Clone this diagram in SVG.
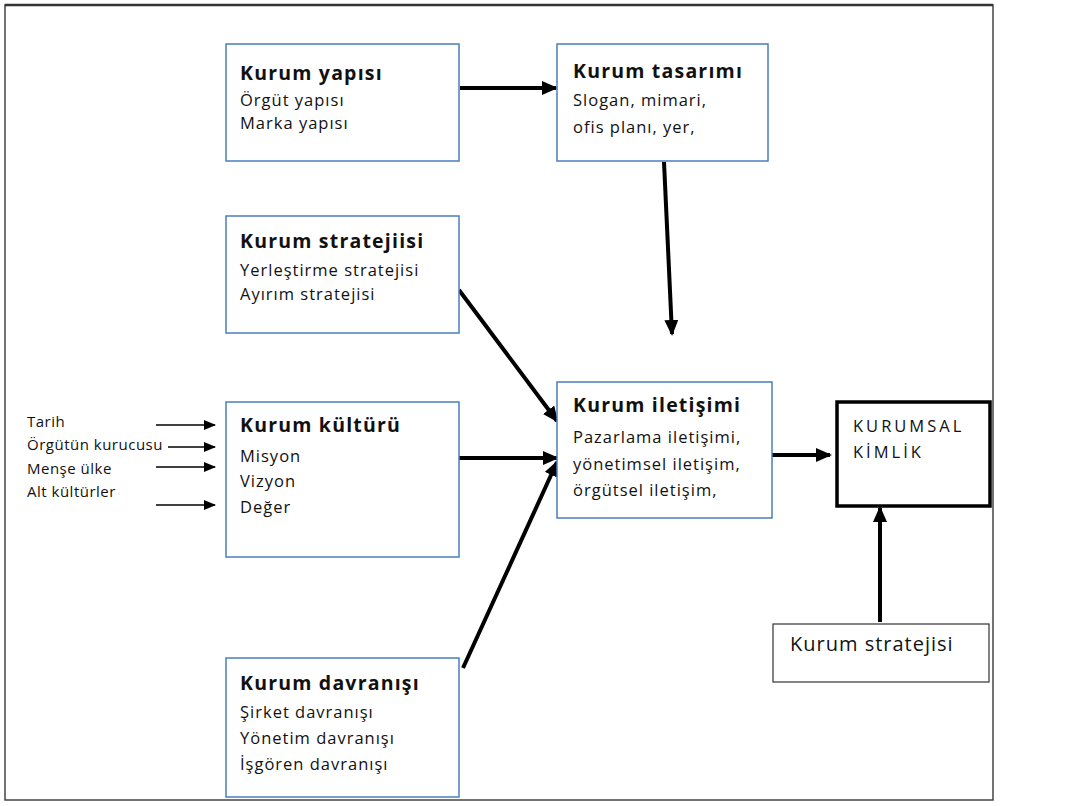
<svg xmlns="http://www.w3.org/2000/svg" width="1079" height="806" viewBox="0 0 1079 806">
  <style>
    text { font-family: "Open Sans", Lato, "Liberation Sans", sans-serif; fill: #111; }
    .box { fill: #fff; stroke: #4a7ebb; stroke-width: 1.5; }
    .title { font-weight: bold; font-size: 19.5px; letter-spacing: 1.2px; }
    .item { font-size: 16.5px; letter-spacing: 1px; }
    .side { font-size: 15px; letter-spacing: 0.5px; }
    .caps { font-size: 16.5px; letter-spacing: 3px; }
    .thick { stroke: #000; stroke-width: 4; fill: none; }
    .thin { stroke: #000; stroke-width: 1.5; fill: none; }
  </style>
  <defs>
    <marker id="headBig" markerUnits="userSpaceOnUse" markerWidth="16" markerHeight="14" refX="14" refY="7" orient="auto">
      <path d="M0,0 L16,7 L0,14 Z" fill="#000"/>
    </marker>
    <marker id="headSmall" markerUnits="userSpaceOnUse" markerWidth="12" markerHeight="10" refX="11" refY="5" orient="auto">
      <path d="M0,0 L12,5 L0,10 Z" fill="#000"/>
    </marker>
  </defs>
  <rect width="1079" height="806" fill="#fff"/>
  <!-- outer frame -->
  <rect x="5" y="5" width="988" height="795" fill="none" stroke="#444" stroke-width="1.5"/>
  <line x1="5" y1="5" x2="993" y2="5" stroke="#333" stroke-width="2.5"/>

  <g id="connectors">
    <line class="thick" x1="460" y1="88" x2="556" y2="88" marker-end="url(#headBig)"/>
    <line class="thick" x1="664" y1="162" x2="672" y2="334" marker-end="url(#headBig)"/>
    <line class="thick" x1="459" y1="290" x2="557" y2="421" marker-end="url(#headBig)"/>
    <line class="thick" x1="459" y1="458" x2="557" y2="458" marker-end="url(#headBig)"/>
    <line class="thick" x1="463" y1="668" x2="557" y2="462" marker-end="url(#headBig)"/>
    <line class="thick" x1="772" y1="455" x2="830" y2="455" marker-end="url(#headBig)"/>
    <line class="thick" x1="880" y1="622" x2="880" y2="508" marker-end="url(#headBig)"/>
    <line class="thin" x1="156" y1="425" x2="215" y2="425" marker-end="url(#headSmall)"/>
    <line class="thin" x1="168" y1="447" x2="215" y2="447" marker-end="url(#headSmall)"/>
    <line class="thin" x1="156" y1="467" x2="215" y2="467" marker-end="url(#headSmall)"/>
    <line class="thin" x1="156" y1="505" x2="215" y2="505" marker-end="url(#headSmall)"/>
  </g>

  <g id="kurum-yapisi">
    <rect class="box" x="226" y="44" width="233" height="117"/>
    <text class="title" x="240" y="80">Kurum yapısı</text>
    <text class="item" x="240" y="106">Örgüt yapısı</text>
    <text class="item" x="240" y="129">Marka yapısı</text>
  </g>

  <g id="kurum-tasarimi">
    <rect class="box" x="557" y="44" width="211" height="117"/>
    <text class="title" x="573" y="78">Kurum tasarımı</text>
    <text class="item" x="573" y="106">Slogan, mimari,</text>
    <text class="item" x="573" y="133">ofis planı, yer,</text>
  </g>

  <g id="kurum-stratejiisi">
    <rect class="box" x="226" y="216" width="233" height="117"/>
    <text class="title" x="240" y="248">Kurum stratejiisi</text>
    <text class="item" x="240" y="276">Yerleştirme stratejisi</text>
    <text class="item" x="240" y="300">Ayırım stratejisi</text>
  </g>

  <g id="kurum-kulturu">
    <rect class="box" x="226" y="402" width="233" height="155"/>
    <text class="title" x="240" y="432">Kurum kültürü</text>
    <text class="item" x="240" y="462">Misyon</text>
    <text class="item" x="240" y="487">Vizyon</text>
    <text class="item" x="240" y="513">Değer</text>
  </g>

  <g id="kultur-kaynaklari">
    <text class="side" x="27" y="427">Tarih</text>
    <text class="side" x="27" y="450">Örgütün kurucusu</text>
    <text class="side" x="27" y="474">Menşe ülke</text>
    <text class="side" x="27" y="497">Alt kültürler</text>
  </g>

  <g id="kurum-davranisi">
    <rect class="box" x="226" y="658" width="233" height="139"/>
    <text class="title" x="240" y="690">Kurum davranışı</text>
    <text class="item" x="240" y="718">Şirket davranışı</text>
    <text class="item" x="240" y="744">Yönetim davranışı</text>
    <text class="item" x="240" y="770">İşgören davranışı</text>
  </g>

  <g id="kurum-iletisimi">
    <rect class="box" x="557" y="382" width="215" height="136"/>
    <text class="title" x="573" y="412">Kurum iletişimi</text>
    <text class="item" x="573" y="443">Pazarlama iletişimi,</text>
    <text class="item" x="573" y="470">yönetimsel iletişim,</text>
    <text class="item" x="573" y="496">örgütsel iletişim,</text>
  </g>

  <g id="kurumsal-kimlik">
    <rect x="837" y="402" width="153" height="104" fill="#fff" stroke="#000" stroke-width="3.5"/>
    <text class="caps" x="853" y="432">KURUMSAL</text>
    <text class="caps" x="853" y="458">KİMLİK</text>
  </g>

  <g id="kurum-stratejisi">
    <rect x="773" y="624" width="216" height="58" fill="#fff" stroke="#333" stroke-width="1.2"/>
    <text x="790" y="651" font-size="20" letter-spacing="1">Kurum stratejisi</text>
  </g>
</svg>
